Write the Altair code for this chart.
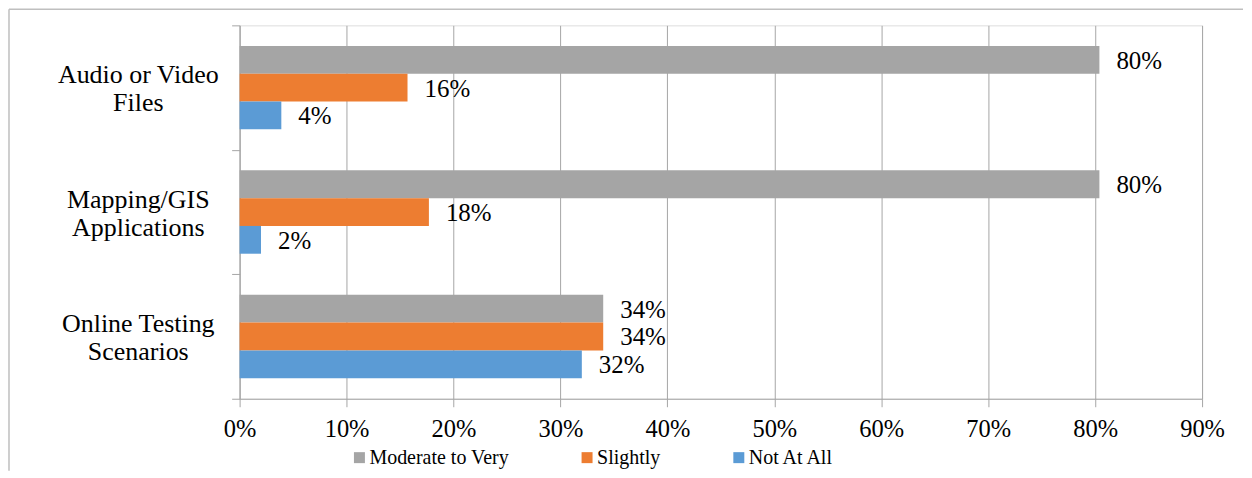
import altair as alt
import pandas as pd

categories = ["Audio or Video\nFiles", "Mapping/GIS\nApplications", "Online Testing\nScenarios"]
series = ["Moderate to Very", "Slightly", "Not At All"]
moderate_to_very = [0.804, 0.804, 0.340]
slightly = [0.157, 0.177, 0.340]
not_at_all = [0.039, 0.020, 0.320]
x_ticks = [0.0, 0.1, 0.2, 0.3, 0.4, 0.5, 0.6, 0.7, 0.8, 0.9]
colors = ["#A5A5A5", "#ED7D31", "#5B9BD5"]

rows = []
for vals, s in zip([moderate_to_very, slightly, not_at_all], series):
    for c, v in zip(categories, vals):
        rows.append({"category": c, "series": s, "value": v})
df = pd.DataFrame(rows)

FONT = "'Liberation Serif', 'Times New Roman', Times, serif"
GRID = "#A6A6A6"

x_enc = alt.X(
    "value:Q",
    scale=alt.Scale(domain=[0, 0.9], nice=False),
    axis=alt.Axis(
        format=".0%", values=x_ticks, title=None, grid=True, gridColor=GRID,
        gridWidth=1, domainColor=GRID, tickColor=GRID, tickSize=8,
        labelFontSize=24.5, labelPadding=11, labelFont=FONT, labelColor="black",
        labelFlush=False, labelOverlap=False,
    ),
)
y_enc = alt.Y(
    "category:N", sort=categories,
    scale=alt.Scale(paddingInner=0, paddingOuter=0),
    axis=alt.Axis(
        title=None, labelExpr="split(datum.label, '\\n')", tickBand="extent",
        tickSize=8, tickColor=GRID, domainColor=GRID, grid=False,
        labelAlign="center", labelBaseline="middle", labelPadding=94,
        labelOffset=-13,
        labelFontSize=26, labelLineHeight=28, labelLimit=400,
        labelFont=FONT, labelColor="black",
    ),
)
yoff_enc = alt.YOffset(
    "series:N", sort=series, scale=alt.Scale(paddingInner=0, paddingOuter=0.74)
)

bars = alt.Chart(df).mark_bar().encode(
    x=x_enc,
    y=y_enc,
    yOffset=yoff_enc,
    color=alt.Color(
        "series:N",
        scale=alt.Scale(domain=series, range=colors),
        legend=alt.Legend(
            title=None, orient="none", legendX=110, legendY=423,
            direction="horizontal", columns=3, symbolType="square",
            symbolSize=121, symbolStrokeWidth=0, labelFontSize=20,
            labelOffset=0, columnPadding=68, labelFont=FONT, labelColor="black",
        ),
    ),
)

labels = alt.Chart(df).mark_text(
    align="left", baseline="middle", dx=17, dy=1, font=FONT, fontSize=25, color="black"
).encode(
    x=alt.X("value:Q"),
    y=alt.Y("category:N", sort=categories),
    yOffset=alt.YOffset("series:N", sort=series),
    text=alt.Text("value:Q", format=".0%"),
)

frame_df = pd.DataFrame({"k": [0]})
top_border = alt.Chart(frame_df).mark_rule(color="#BFBFBF", strokeWidth=1.5).encode(
    x=alt.value(-231), x2=alt.value(1005), y=alt.value(-16)
)
left_border = alt.Chart(frame_df).mark_rule(color="#BFBFBF", strokeWidth=1.5).encode(
    x=alt.value(-231), y=alt.value(-16), y2=alt.value(446)
)

chart = alt.layer(bars, labels, top_border, left_border).properties(
    width=964, height=374, padding=0
).configure_view(strokeWidth=0).configure(font=FONT)

chart.save("out.html", embed_options={"renderer": "svg", "actions": False})
